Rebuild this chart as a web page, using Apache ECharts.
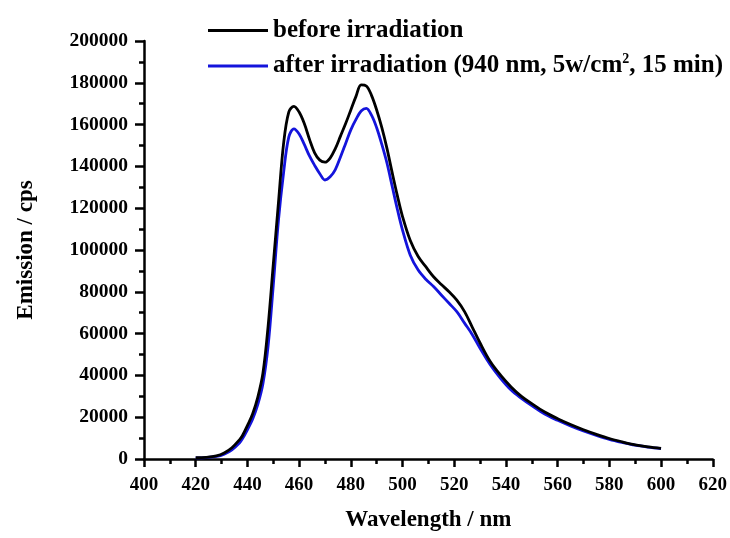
<!DOCTYPE html>
<html>
<head>
<meta charset="utf-8">
<script src="https://cdn.jsdelivr.net/npm/echarts@6/dist/echarts.min.js"></script>
<style>
  html, body { margin: 0; padding: 0; background: #fff; }
  #chart { width: 730px; height: 538px; }
</style>
</head>
<body>
<div id="chart"></div>
<script>
// Emission spectra, wavelength in nm
const wavelength = [420, 424, 428, 431, 434, 437, 438, 440, 442, 444, 446, 448, 450, 452, 454, 456, 458,
  460, 462, 464, 466, 468, 470, 472, 474, 476, 478, 480, 482, 484, 486, 488, 490, 492, 494, 496, 498,
  500, 503, 506, 509, 512, 515, 518, 521, 524, 527, 530, 534, 538, 542, 546, 550, 555, 560, 565, 570,
  575, 580, 585, 590, 595, 600];

// counts per second before irradiation
const before = [600, 800, 1500, 2900, 5400, 9300, 11000, 16000, 21500, 29500, 41000, 63500, 93000, 122500, 151000, 166000, 168700,
  166000, 160500, 153000, 146500, 143000, 142000, 144000, 148500, 154500, 160500, 167000, 173500, 179000, 178500, 174000, 167000, 158500, 148500, 137000, 126000,
  116000, 104500, 97000, 92000, 87200, 83500, 80000, 76000, 70500, 63000, 55500, 46500, 40000, 34500, 30000, 26500, 22500, 19300, 16500, 14000,
  11800, 9800, 8200, 6800, 5800, 5100];

// counts per second after irradiation
const after = [500, 700, 1200, 2300, 4400, 7800, 9500, 14000, 19000, 26000, 36000, 54000, 83000, 114000, 137000, 154000, 158000,
  155500, 150500, 145000, 140500, 136500, 133500, 135000, 138500, 144500, 151000, 157500, 162500, 166500, 167800, 164500, 158500, 150500, 141500, 130500, 119500,
  109500, 97500, 90500, 86000, 82500, 78500, 74500, 70500, 65000, 59500, 53000, 45000, 38500, 33000, 29000, 25500, 21500, 18500, 15800, 13400,
  11300, 9400, 7900, 6600, 5700, 5000];

const seriesNames = ['before irradiation', 'after irradiation (940 nm, 5w/cm², 15 min)'];

const pairs = (xs, ys) => xs.map((x, i) => [x, ys[i]]);

const serif = '"Liberation Serif", "Times New Roman", serif';

const chart = echarts.init(document.getElementById('chart'), null, { renderer: 'canvas' });

chart.setOption({
  backgroundColor: '#ffffff',
  animation: false,
  grid: { left: 144, right: 17, top: 41, bottom: 79, containLabel: false },
  legend: {
    orient: 'vertical',
    left: 203,
    top: 13,
    itemWidth: 60,
    itemHeight: 3,
    itemGap: 9,
    icon: 'rect',
    data: seriesNames,
    formatter: function (name) {
      if (name === seriesNames[1]) {
        return '{t|after irradiation (940 nm, 5w/cm}{s|2}{t|, 15 min)}';
      }
      return '{t|' + name + '}';
    },
    textStyle: {
      fontFamily: serif,
      fontWeight: 'bold',
      fontSize: 25,
      color: '#000',
      rich: {
        t: { fontFamily: serif, fontWeight: 'bold', fontSize: 25, color: '#000', lineHeight: 30 },
        s: { fontFamily: serif, fontWeight: 'bold', fontSize: 14, color: '#000', lineHeight: 30, padding: [0, 0, 14, 0] }
      }
    }
  },
  xAxis: {
    type: 'value',
    min: 400,
    max: 620,
    interval: 20,
    name: 'Wavelength / nm',
    nameLocation: 'middle',
    nameGap: 50,
    nameTextStyle: { fontFamily: serif, fontWeight: 'bold', fontSize: 23, color: '#000' },
    axisLine: { onZero: false, lineStyle: { color: '#000', width: 2.5 } },
    axisTick: { length: 8, lineStyle: { color: '#000', width: 2.5 } },
    minorTick: { show: true, splitNumber: 2, length: 5, lineStyle: { color: '#000', width: 2.5 } },
    axisLabel: { margin: 17, fontFamily: serif, fontWeight: 'bold', fontSize: 19, color: '#000' },
    splitLine: { show: false }
  },
  yAxis: {
    type: 'value',
    min: 0,
    max: 200000,
    interval: 20000,
    name: 'Emission / cps',
    nameLocation: 'middle',
    nameGap: 106,
    nameTextStyle: { fontFamily: serif, fontWeight: 'bold', fontSize: 23, color: '#000' },
    axisLine: { show: true, lineStyle: { color: '#000', width: 2.5 } },
    axisTick: { show: true, length: 9, lineStyle: { color: '#000', width: 2.5 } },
    minorTick: { show: true, splitNumber: 2, length: 5, lineStyle: { color: '#000', width: 2.5 } },
    axisLabel: {
      margin: 16, fontFamily: serif, fontWeight: 'bold', fontSize: 19.5, color: '#000',
      formatter: function (v) { return String(v); }
    },
    splitLine: { show: false }
  },
  series: [
    {
      name: seriesNames[1],
      type: 'line',
      data: pairs(wavelength, after),
      showSymbol: false,
      smooth: 0.35,
      color: '#1414dc',
      lineStyle: { color: '#1414dc', width: 2.8 },
      z: 2
    },
    {
      name: seriesNames[0],
      type: 'line',
      data: pairs(wavelength, before),
      showSymbol: false,
      smooth: 0.35,
      color: '#000000',
      lineStyle: { color: '#000000', width: 2.8 },
      z: 3
    }
  ]
});
</script>
</body>
</html>
